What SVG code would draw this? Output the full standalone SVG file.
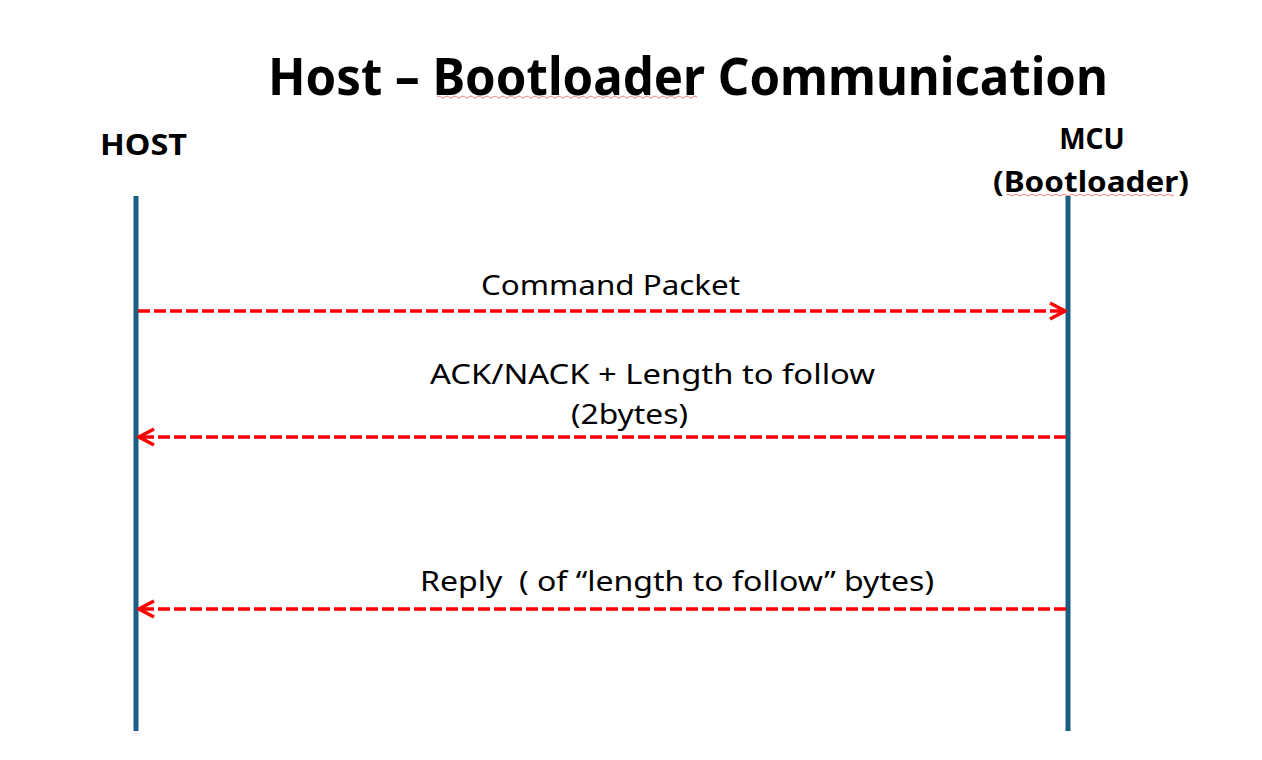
<svg xmlns="http://www.w3.org/2000/svg" width="1262" height="760" viewBox="0 0 1262 760">
<style>
.title{font-family:"Noto Sans","Liberation Sans",sans-serif;font-weight:bold;font-size:52px;fill:#000}
.actor{font-family:"Noto Sans","Liberation Sans",sans-serif;font-weight:bold;font-size:28px;fill:#000}
.msg{font-family:"Noto Sans","Liberation Sans",sans-serif;font-size:28px;fill:#000}
.life{stroke:#1B5E84;stroke-width:5;fill:none}
.arrow{stroke:#FF0000;stroke-width:3.5;stroke-dasharray:12 4;fill:none}
.squig{stroke:#F08080;stroke-width:1;fill:none}
</style>
<defs>
<marker id="ah" viewBox="0 0 20 20" refX="18" refY="10" markerWidth="20" markerHeight="20" markerUnits="userSpaceOnUse" orient="auto">
<path d="M3,2 L18,10 L3,18" fill="none" stroke="#FF0000" stroke-width="3.5" stroke-linejoin="miter"/>
</marker>
</defs>
<rect width="1262" height="760" fill="#fff"/>
<text class="title" x="268" y="95" textLength="840" lengthAdjust="spacingAndGlyphs">Host – Bootloader Communication</text>
<path class="squig" d="M437,97 q2,-2 4,0 t4,0 t4,0 t4,0 t4,0 t4,0 t4,0 t4,0 t4,0 t4,0 t4,0 t4,0 t4,0 t4,0 t4,0 t4,0 t4,0 t4,0 t4,0 t4,0 t4,0 t4,0 t4,0 t4,0 t4,0 t4,0 t4,0 t4,0 t4,0 t4,0 t4,0 t4,0 t4,0 t4,0 t4,0 t4,0 t4,0 t4,0 t4,0 t4,0 t4,0 t4,0 t4,0 t4,0 t4,0 t4,0 t4,0 t4,0 t4,0 t4,0 t4,0 t4,0 t4,0 t4,0 t4,0 t4,0 t4,0 t4,0 t4,0 t4,0 t4,0 t4,0 t4,0 t4,0 t4,0"/>
<g id="host">
<text class="actor" x="100" y="155" textLength="87" lengthAdjust="spacingAndGlyphs">HOST</text>
<line class="life" x1="136" y1="196" x2="136" y2="731"/>
</g>
<g id="mcu">
<text class="actor" x="1092" y="149" text-anchor="middle">MCU</text>
<text class="actor" x="993" y="192" textLength="196" lengthAdjust="spacingAndGlyphs">(Bootloader)</text>
<path class="squig" d="M1006,195 q2,-2 4,0 t4,0 t4,0 t4,0 t4,0 t4,0 t4,0 t4,0 t4,0 t4,0 t4,0 t4,0 t4,0 t4,0 t4,0 t4,0 t4,0 t4,0 t4,0 t4,0 t4,0 t4,0 t4,0 t4,0 t4,0 t4,0 t4,0 t4,0 t4,0 t4,0 t4,0 t4,0 t4,0 t4,0 t4,0 t4,0 t4,0 t4,0 t4,0 t4,0 t4,0 t4,0"/>
<line class="life" x1="1068" y1="196" x2="1068" y2="731"/>
</g>
<g id="connectors">
<line class="arrow" x1="138" y1="311" x2="1065" y2="311" marker-end="url(#ah)"/>
<line class="arrow" x1="1066" y1="437" x2="139" y2="437" marker-end="url(#ah)"/>
<line class="arrow" x1="1066" y1="609" x2="139" y2="609" marker-end="url(#ah)"/>
</g>
<g id="labels">
<text class="msg" x="481" y="295" textLength="259" lengthAdjust="spacingAndGlyphs">Command Packet</text>
<text class="msg" x="430" y="384" textLength="445" lengthAdjust="spacingAndGlyphs">ACK/NACK + Length to follow</text>
<text class="msg" x="571" y="424" textLength="117" lengthAdjust="spacingAndGlyphs">(2bytes)</text>
<text class="msg" x="420" y="591" textLength="514" lengthAdjust="spacingAndGlyphs" xml:space="preserve">Reply  ( of “length to follow” bytes)</text>
</g>
</svg>
